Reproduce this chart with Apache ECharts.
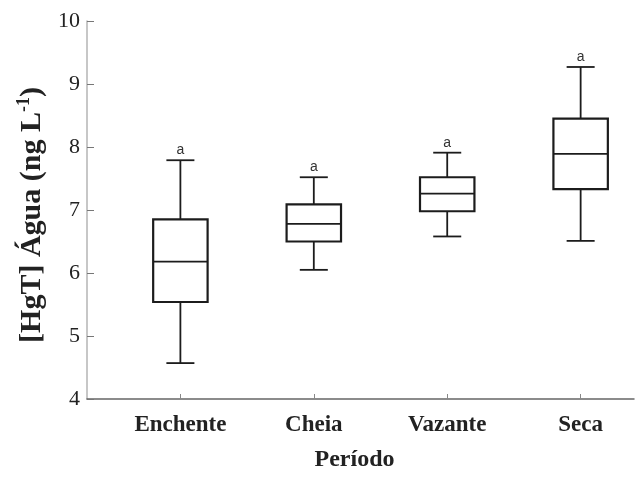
<!DOCTYPE html>
<html>
<head>
<meta charset="utf-8">
<script src="https://cdn.jsdelivr.net/npm/echarts@6/dist/echarts.min.js"></script>
<style>
  html, body { margin: 0; padding: 0; background: #fff; }
  #chart { width: 635px; height: 477px; }
</style>
</head>
<body>
<div id="chart"></div>
<script>
// Período (x categories) and box statistics of [HgT] in water (ng L-1)
const categories = ['Enchente', 'Cheia', 'Vazante', 'Seca'];
const whiskerLow = [4.57, 6.05, 6.58, 6.51];
const quartile1  = [5.54, 6.50, 6.98, 7.33];
const medians    = [6.18, 6.78, 7.26, 7.89];
const quartile3  = [6.85, 7.09, 7.52, 8.45];
const whiskerHigh = [7.79, 7.52, 7.91, 9.27];
const groupLetters = ['a', 'a', 'a', 'a'];
const yTicks = [4, 5, 6, 7, 8, 9, 10];

const positions = categories.map((c, i) => i + 1);
const boxData = categories.map((c, i) => [
  positions[i], whiskerLow[i], quartile1[i], medians[i], quartile3[i], whiskerHigh[i]
]);

const ink = '#1c1c1c';
const serif = '"Liberation Serif", "Times New Roman", serif';

function renderBox(params, api) {
  const x = api.value(0);
  const pLow = api.coord([x, api.value(1)]);
  const pQ1 = api.coord([x, api.value(2)]);
  const pMed = api.coord([x, api.value(3)]);
  const pQ3 = api.coord([x, api.value(4)]);
  const pHigh = api.coord([x, api.value(5)]);
  const unit = api.size([1, 0])[0];
  const half = unit * 0.204;
  const cap = unit * 0.105;
  const cx = pMed[0];
  const lineStyle = { stroke: ink, lineWidth: 1.8, fill: null };
  const boxStyle = { stroke: ink, lineWidth: 2.2, fill: '#fff' };
  return {
    type: 'group',
    children: [
      { type: 'line', shape: { x1: cx, y1: pHigh[1], x2: cx, y2: pQ3[1] }, style: lineStyle },
      { type: 'line', shape: { x1: cx, y1: pQ1[1], x2: cx, y2: pLow[1] }, style: lineStyle },
      { type: 'line', shape: { x1: cx - cap, y1: pHigh[1], x2: cx + cap, y2: pHigh[1] }, style: lineStyle },
      { type: 'line', shape: { x1: cx - cap, y1: pLow[1], x2: cx + cap, y2: pLow[1] }, style: lineStyle },
      { type: 'rect', shape: { x: cx - half, y: pQ3[1], width: half * 2, height: pQ1[1] - pQ3[1] }, style: boxStyle },
      { type: 'line', shape: { x1: cx - half, y1: pMed[1], x2: cx + half, y2: pMed[1] }, style: { stroke: ink, lineWidth: 1.8 } },
      { type: 'text', x: cx, y: pHigh[1] - 3,
        style: { text: groupLetters[params.dataIndex], fill: '#333', fontSize: 14,
                 fontFamily: '"Liberation Sans", Arial, sans-serif', align: 'center', verticalAlign: 'bottom' } }
    ]
  };
}

const chart = echarts.init(document.getElementById('chart'), null, { renderer: 'canvas' });
chart.setOption({
  backgroundColor: '#fff',
  animation: false,
  grid: { left: 87, right: 1, top: 21, bottom: 73, containLabel: false },
  xAxis: {
    type: 'value',
    min: 0.3,
    max: 4.4,
    name: 'Período',
    nameLocation: 'middle',
    nameGap: 49,
    nameTextStyle: { fontFamily: serif, fontWeight: 'bold', fontSize: 24, color: '#222', padding: [0, 12, 0, 0] },
    axisLine: { show: true, lineStyle: { color: '#666', width: 1.5 } },
    axisTick: { show: true, inside: true, length: 5, customValues: positions, lineStyle: { color: '#888', width: 1 } },
    axisLabel: {
      customValues: positions,
      formatter: v => categories[Math.round(v) - 1] || '',
      margin: 15,
      fontFamily: serif, fontWeight: 'bold', fontSize: 23, color: '#222'
    },
    splitLine: { show: false }
  },
  yAxis: {
    type: 'value',
    min: yTicks[0],
    max: yTicks[yTicks.length - 1],
    interval: 1,
    name: '{b|[HgT] Água (ng L}{s|-1}{b|)}',
    nameLocation: 'middle',
    nameGap: 37,
    nameTextStyle: {
      padding: [0, 10, 0, 0],
      rich: {
        b: { fontFamily: serif, fontWeight: 'bold', fontSize: 30, color: '#222', lineHeight: 34 },
        s: { fontFamily: serif, fontWeight: 'bold', fontSize: 18, color: '#222', verticalAlign: 'top', lineHeight: 34, padding: [0, 0, 13, 0] }
      }
    },
    axisLine: { show: true, lineStyle: { color: '#b5b5b5', width: 1.5 } },
    axisTick: { show: true, inside: true, length: 7, lineStyle: { color: '#777', width: 1 } },
    axisLabel: { margin: 7, fontFamily: serif, fontSize: 22, color: '#222' },
    splitLine: { show: false }
  },
  series: [{
    type: 'custom',
    renderItem: renderBox,
    encode: { x: 0, y: [1, 2, 3, 4, 5] },
    data: boxData,
    clip: false
  }]
});
</script>
</body>
</html>
